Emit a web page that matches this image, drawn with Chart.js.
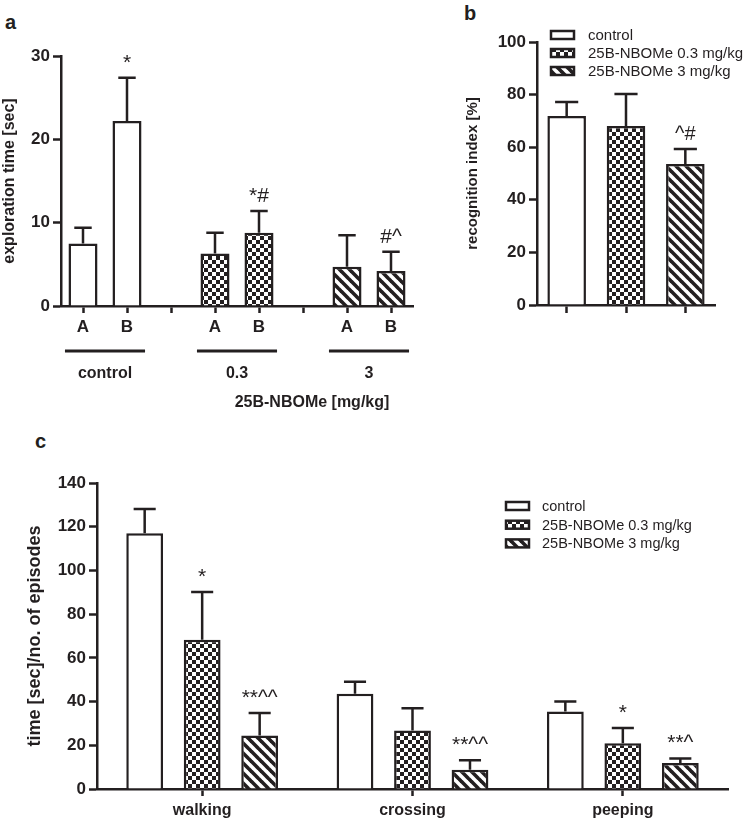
<!DOCTYPE html>
<html>
<head>
<meta charset="utf-8">
<script src="https://cdn.jsdelivr.net/npm/chart.js@4"></script>
<style>
body{margin:0;background:#fff;width:752px;height:820px;position:relative;overflow:hidden;font-family:"Liberation Sans",Arial,sans-serif}
.pane{position:absolute}
.letter{position:absolute;font-weight:bold;font-size:20px;line-height:20px;color:#231f20}
</style>
</head>
<body>
<div class="letter" style="left:5px;top:12px">a</div>
<div class="letter" style="left:464px;top:3px">b</div>
<div class="letter" style="left:35px;top:431px">c</div>
<div class="pane" style="left:0;top:0"><canvas id="chartA" width="440" height="420"></canvas></div>
<div class="pane" style="left:440px;top:0"><canvas id="chartB" width="312" height="330"></canvas></div>
<div class="pane" style="left:0;top:420px"><canvas id="chartC" width="752" height="400"></canvas></div>
<script>
const INK = '#231f20';

// panel a - object exploration
const aLabels = ['A', 'B', '', 'A', 'B', '', 'A', 'B'];
const aGroups = ['control', '0.3', '3'];
const aTime = [7.5, 22.2, null, 6.3, 8.8, null, 4.7, 4.2];
const aSem = [1.9, 5.2, null, 2.5, 2.6, null, 3.8, 2.3];
const aMarks = ['', '*', '', '', '*#', '', '', '#^'];

// panel b - recognition index
const groupNames = ['control', '25B-NBOMe 0.3 mg/kg', '25B-NBOMe 3 mg/kg'];
const bIndex = [71.9, 68.1, 53.6];
const bSem = [5.3, 12.1, 5.7];
const bMarks = ['', '', '^#'];

// panel c - behaviour
const cActs = ['walking', 'crossing', 'peeping'];
const cControl = [117, 43.6, 35.5];
const cControlSem = [11.1, 5.5, 4.5];
const cLow = [68.3, 26.8, 20.9];
const cLowSem = [21.8, 10.2, 7.0];
const cHigh = [24.5, 8.8, 11.9];
const cHighSem = [10.3, 4.3, 2.1];
const cControlMarks = ['', '', ''];
const cLowMarks = ['*', '', '*'];
const cHighMarks = ['**^^', '**^^', '**^'];

Chart.defaults.font.family = '"Liberation Sans", Arial, sans-serif';
Chart.defaults.color = INK;
Chart.defaults.animation = false;

function checker() {
    const c = document.createElement('canvas');
    c.width = c.height = 8;
    const x = c.getContext('2d');
    x.fillStyle = '#fff'; x.fillRect(0, 0, 8, 8);
    x.fillStyle = INK; x.fillRect(0, 0, 4, 4); x.fillRect(4, 4, 4, 4);
    return x.createPattern(c, 'repeat');
}
function stripes() {
    const s = 10;
    const c = document.createElement('canvas');
    c.width = c.height = s;
    const x = c.getContext('2d');
    x.fillStyle = '#fff'; x.fillRect(0, 0, s, s);
    x.strokeStyle = INK; x.lineWidth = 3.6;
    [-s, 0, s].forEach(o => {
        x.beginPath(); x.moveTo(o - 1, -1); x.lineTo(o + s + 1, s + 1); x.stroke();
    });
    return x.createPattern(c, 'repeat');
}
const fills = ['#fff', checker(), stripes()];

// error bars (upper SEM only) and significance marks
const errorBars = {
    id: 'errorBars',
    afterDatasetsDraw(chart) {
        const ctx = chart.ctx, y = chart.scales.y;
        const size = chart.options.plugins.errorBars.markSize;
        chart.data.datasets.forEach((ds, di) => {
            chart.getDatasetMeta(di).data.forEach((bar, i) => {
                const v = ds.data[i];
                if (v == null) return;
                const top = y.getPixelForValue(v + ds.sem[i]);
                const cap = bar.width * 0.3;
                ctx.save();
                ctx.strokeStyle = INK; ctx.lineWidth = 2.5;
                ctx.beginPath();
                ctx.moveTo(bar.x, bar.y); ctx.lineTo(bar.x, top);
                ctx.moveTo(bar.x - cap, top); ctx.lineTo(bar.x + cap, top);
                ctx.stroke();
                if (ds.marks[i]) {
                    ctx.fillStyle = INK;
                    ctx.font = size + 'px "Liberation Sans", Arial, sans-serif';
                    ctx.textAlign = 'center'; ctx.textBaseline = 'alphabetic';
                    ctx.fillText(ds.marks[i], bar.x, top - 9);
                }
                ctx.restore();
            });
        });
    }
};

function boxLegend(items, x0, y0, step, tx, fontSize) {
    return {
        id: 'boxLegend',
        afterDraw(chart) {
            const ctx = chart.ctx;
            items.forEach((it, k) => {
                const cy = y0 + k * step;
                ctx.save();
                ctx.fillStyle = it.fill;
                ctx.fillRect(x0, cy - 4, 23, 8);
                ctx.strokeStyle = INK; ctx.lineWidth = 2.5;
                ctx.strokeRect(x0, cy - 4, 23, 8);
                ctx.fillStyle = INK;
                ctx.font = fontSize + 'px "Liberation Sans", Arial, sans-serif';
                ctx.textAlign = 'left'; ctx.textBaseline = 'middle';
                ctx.fillText(it.text, tx, cy + 1);
                ctx.restore();
            });
        }
    };
}

function yAxis(max, step, title, titleSize, titlePad, width) {
    return {
        min: 0, max: max,
        ticks: {stepSize: step, font: {size: 17, weight: 'bold'}, color: INK, padding: 3},
        grid: {drawOnChartArea: false, tickLength: 8, tickColor: INK, tickWidth: 2.5},
        border: {color: INK, width: 2.5},
        title: {display: true, text: title, color: INK, font: {size: titleSize, weight: 'bold'}, padding: {top: titlePad, bottom: 0}},
        afterFit(s) { s.width = width; }
    };
}
function xAxis(fontSize, tickLen, pad, height, show) {
    return {
        ticks: {display: show, autoSkip: false, maxRotation: 0, font: {size: fontSize, weight: 'bold'}, color: INK, padding: pad},
        grid: {offset: false, drawOnChartArea: false, tickLength: tickLen, tickColor: INK, tickWidth: 2.5},
        border: {color: INK, width: 2.5},
        afterFit(s) { s.height = height; }
    };
}

// panel a
const groupLines = {
    id: 'groupLines',
    afterDraw(chart) {
        const ctx = chart.ctx, x = chart.scales.x;
        ctx.save();
        ctx.strokeStyle = INK; ctx.fillStyle = INK; ctx.lineWidth = 3;
        ctx.textAlign = 'center'; ctx.textBaseline = 'middle';
        ctx.font = 'bold 16px "Liberation Sans", Arial, sans-serif';
        aGroups.forEach((g, k) => {
            const p1 = x.getPixelForValue(k * 3), p2 = x.getPixelForValue(k * 3 + 1);
            const mid = (p1 + p2) / 2, half = (p2 - p1) * 0.91;
            ctx.beginPath(); ctx.moveTo(mid - half, 351); ctx.lineTo(mid + half, 351); ctx.stroke();
            ctx.fillText(g, mid, 374);
        });
        ctx.fillText('25B-NBOMe [mg/kg]', 312, 403);
        ctx.restore();
    }
};
new Chart(document.getElementById('chartA'), {
    type: 'bar',
    data: {
        labels: aLabels,
        datasets: [{
            data: aTime, sem: aSem, marks: aMarks,
            backgroundColor: [fills[0], fills[0], null, fills[1], fills[1], null, fills[2], fills[2]],
            borderColor: INK, borderWidth: 2.5,
            categoryPercentage: 1, barPercentage: 0.66
        }]
    },
    options: {
        responsive: false,
        layout: {padding: {left: 0, top: 56, right: 27, bottom: 0}},
        plugins: {legend: {display: false}, tooltip: {enabled: false}, errorBars: {markSize: 21}},
        scales: {
            x: xAxis(17, 7, 4, 114, true),
            y: yAxis(30, 10, 'exploration time [sec]', 16, 0, 61)
        }
    },
    plugins: [errorBars, groupLines]
});

// panel b
new Chart(document.getElementById('chartB'), {
    type: 'bar',
    data: {
        labels: groupNames,
        datasets: [{
            data: bIndex, sem: bSem, marks: bMarks,
            backgroundColor: fills,
            borderColor: INK, borderWidth: 2.5,
            categoryPercentage: 1, barPercentage: 0.65
        }]
    },
    options: {
        responsive: false,
        layout: {padding: {left: 0, top: 42, right: 37, bottom: 0}},
        plugins: {legend: {display: false}, tooltip: {enabled: false}, errorBars: {markSize: 20}},
        scales: {
            x: xAxis(15, 8, 0, 25, false),
            y: yAxis(100, 20, 'recognition index [%]', 15, 24, 97)
        }
    },
    plugins: [errorBars, boxLegend(groupNames.map((t, k) => ({text: t, fill: fills[k]})), 111, 35, 18, 148, 15)]
});

// panel c
const cSets = [[cControl, cControlSem, cControlMarks], [cLow, cLowSem, cLowMarks], [cHigh, cHighSem, cHighMarks]];
new Chart(document.getElementById('chartC'), {
    type: 'bar',
    data: {
        labels: cActs,
        datasets: cSets.map((s, k) => ({
            label: groupNames[k],
            data: s[0], sem: s[1], marks: s[2],
            backgroundColor: fills[k],
            borderColor: INK, borderWidth: 2.5,
            categoryPercentage: 0.82, barPercentage: 0.64
        }))
    },
    options: {
        responsive: false,
        layout: {padding: {left: 0, top: 63, right: 24, bottom: 0}},
        plugins: {legend: {display: false}, tooltip: {enabled: false}, errorBars: {markSize: 21}},
        scales: {
            x: xAxis(16, 7, 5, 31, true),
            y: yAxis(140, 20, 'time [sec]/no. of episodes', 18, 24, 97)
        }
    },
    plugins: [errorBars, boxLegend(groupNames.map((t, k) => ({text: t, fill: fills[k]})), 506, 86, 18.7, 542, 14.5)]
});
</script>
</body>
</html>
